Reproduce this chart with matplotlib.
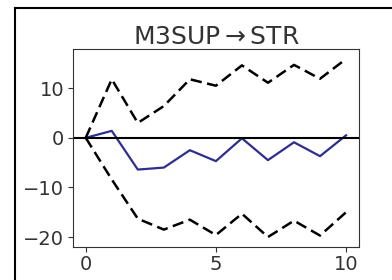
import numpy as np
import matplotlib
matplotlib.use("Agg")
import matplotlib.pyplot as plt
from matplotlib.lines import Line2D

# impulse response M3SUP -> STR
steps = np.arange(11)
irf = [0.0, 1.4, -6.4, -6.0, -2.5, -4.7, -0.1, -4.5, -0.9, -3.7, 0.5]
upper = [0.0, 11.8, 3.0, 6.4, 11.8, 10.5, 14.6, 11.1, 14.7, 11.9, 15.9]
lower = [0.0, -8.4, -16.3, -18.5, -16.5, -19.6, -15.3, -20.0, -16.7, -19.7, -15.0]

fig = plt.figure(figsize=(3.92, 2.8), dpi=100)
ax = fig.add_axes([0.1855, 0.118, 0.7305, 0.707])

ax.plot(steps, irf, color="#2e2e8c", lw=1.6)
ax.plot(steps, upper, color="black", lw=1.8, dashes=(4.5, 2.2))
ax.plot(steps, lower, color="black", lw=1.8, dashes=(4.5, 2.2))
ax.axhline(0, color="black", lw=1.5)

ax.set_xlim(-0.5, 10.5)
ax.set_ylim(-22.0, 17.9)
ax.set_xticks([0, 5, 10])
ax.set_yticks([-20, -10, 0, 10])
ax.tick_params(labelsize=14, colors="#333333", pad=2.5)
for s in ax.spines.values():
    s.set_color("#333333")
ax.set_title("M3SUP$\\rightarrow$STR", fontsize=18, color="#333333", pad=3)

# frame lines of the screenshot (left and top only)
fig.add_artist(Line2D([0.037, 0.037], [0, 0.972], color="black", lw=1.5, transform=fig.transFigure))
fig.add_artist(Line2D([0.037, 1.0], [0.972, 0.972], color="black", lw=1.5, transform=fig.transFigure))

fig.savefig("out.png", dpi=100)
